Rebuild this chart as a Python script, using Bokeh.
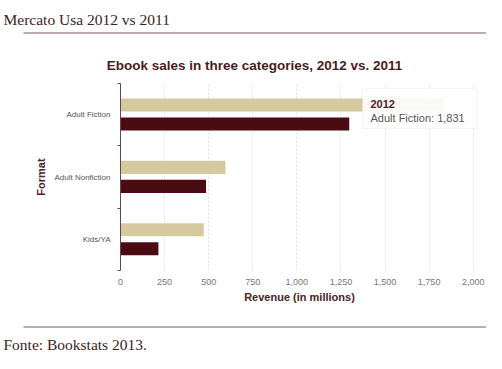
from bokeh.plotting import figure
from bokeh.models import (ColumnDataSource, Label, BoxAnnotation, FixedTicker,
                          NumeralTickFormatter, Range1d)
from bokeh.layouts import column
from bokeh.transform import dodge
from bokeh.embed import file_html
from bokeh.resources import INLINE

# ---- data ----
categories = ["Adult Fiction", "Adult Nonfiction", "Kids/YA"]
sales_2012 = [1831, 595, 472]
sales_2011 = [1297, 485, 215]
x_ticks = [0, 250, 500, 750, 1000, 1250, 1500, 1750, 2000]

header_text = "Mercato Usa 2012 vs 2011"
chart_title = "Ebook sales in three categories, 2012 vs. 2011"
footer_text = "Fonte: Bookstats 2013."
tooltip_title = "2012"
tooltip_text = "Adult Fiction: 1,831"

W = 486
TAN = "#d6c9a0"
MAROON = "#4a0b12"
BROWN = "#4a2424"
SERIF_COL = "#3a1e1e"
RULE_COL = "#7a5a58"


def deco_fig(h):
    f = figure(width=W, height=h, output_backend="svg", toolbar_location=None,
               x_range=Range1d(0, W), y_range=Range1d(h, 0),
               x_axis_type=None, y_axis_type=None,
               min_border=0, min_border_left=0, min_border_right=0,
               min_border_top=0, min_border_bottom=0)
    f.outline_line_color = None
    f.grid.grid_line_color = None
    f.frame_align = False
    return f


# ---- header ----
HH = 78
hdr = deco_fig(HH)
hdr.add_layout(Label(x=3, y=19, text=header_text, text_font="Liberation Serif",
                     text_font_size="15.5px", text_color=SERIF_COL, text_baseline="alphabetic"))
hdr.add_layout(BoxAnnotation(left=23, right=486, top=32, bottom=33,
                             fill_color=RULE_COL, fill_alpha=1, line_color=None))
hdr.add_layout(Label(x=254, y=65, text=chart_title, text_font="Liberation Sans",
                     text_font_style="bold", text_font_size="13.5px", text_color="#4a1c1c",
                     text_align="center", text_baseline="middle"))

# ---- main chart ----
MH = 243
FL, FR, FT, FB = 120, 8, 5, 51

n = len(categories)
ypos = [n - i - 0.5 for i in range(n)]
src = ColumnDataSource(dict(cat=categories, y=ypos, v2012=sales_2012, v2011=sales_2011))

p = figure(width=W, height=MH, output_backend="svg", toolbar_location=None,
           x_range=(0, 2030), y_range=(0, n),
           min_border_left=FL, min_border_right=FR, min_border_top=FT, min_border_bottom=FB)
p.outline_line_color = None
p.frame_align = False

p.hbar(y=dodge("y", 0.155, range=p.y_range), left=0, right="v2012", height=0.21,
       source=src, fill_color=TAN, line_color=None)
p.hbar(y=dodge("y", -0.15, range=p.y_range), left=0, right="v2011", height=0.21,
       source=src, fill_color=MAROON, line_color=None)

p.xaxis.ticker = FixedTicker(ticks=x_ticks)
p.xaxis.formatter = NumeralTickFormatter(format="0,0")
p.xaxis.axis_line_color = None
p.xaxis.major_tick_line_color = None
p.xaxis.major_tick_out = 0
p.xaxis.major_tick_in = 0
p.xaxis.minor_tick_line_color = None
p.xaxis.major_label_text_font = "Liberation Sans"
p.xaxis.major_label_text_font_size = "9px"
p.xaxis.major_label_text_color = "#777777"
p.xaxis.major_label_standoff = 8
p.xaxis.axis_label = "Revenue (in millions)"
p.xaxis.axis_label_text_font = "Liberation Sans"
p.xaxis.axis_label_text_font_style = "bold"
p.xaxis.axis_label_text_font_size = "11px"
p.xaxis.axis_label_text_color = BROWN
p.xaxis.axis_label_standoff = 3

p.yaxis.ticker = FixedTicker(ticks=ypos, minor_ticks=list(range(0, n + 1)))
p.yaxis.major_label_overrides = {y: c for y, c in zip(ypos, categories)}
p.yaxis.axis_line_color = "#6a4444"
p.yaxis.major_tick_line_color = None
p.yaxis.major_tick_out = 0
p.yaxis.major_tick_in = 0
p.yaxis.minor_tick_line_color = "#6a4444"
p.yaxis.minor_tick_out = 3
p.yaxis.minor_tick_in = 0
p.yaxis.major_label_text_font = "Liberation Sans"
p.yaxis.major_label_text_font_size = "8px"
p.yaxis.major_label_text_color = "#555555"
p.yaxis.major_label_standoff = 7
p.yaxis.axis_label = "Format"
p.yaxis.axis_label_text_font = "Liberation Sans"
p.yaxis.axis_label_text_font_style = "bold"
p.yaxis.axis_label_text_font_size = "11px"
p.yaxis.axis_label_text_color = BROWN
p.yaxis.axis_label_standoff = 4

p.xgrid.grid_line_color = "#dedede"
p.xgrid.grid_line_dash = "2 2"
p.ygrid.grid_line_color = None


def sx(fx):
    return fx - FL


def sy(fy):
    return (MH - FB) - fy


# tooltip box (main figure coords: image y - 78)
p.add_layout(BoxAnnotation(left=sx(362), right=sx(476), top=sy(10), bottom=sy(50),
                           left_units="screen", right_units="screen",
                           top_units="screen", bottom_units="screen",
                           fill_color="white", fill_alpha=0.88,
                           line_color="#dddddd", line_width=1))
p.add_layout(Label(x=sx(370), y=sy(25), x_units="screen", y_units="screen",
                   text=tooltip_title, text_font="Liberation Sans", text_font_style="bold",
                   text_font_size="11px", text_color="#4a1c2c", text_baseline="middle"))
p.add_layout(Label(x=sx(370), y=sy(39), x_units="screen", y_units="screen",
                   text=tooltip_text, text_font="Liberation Sans",
                   text_font_size="11px", text_color="#555555", text_baseline="middle"))

# ---- footer ----
FH = 32
ftr = deco_fig(FH)
ftr.add_layout(BoxAnnotation(left=23, right=486, top=5, bottom=6,
                             fill_color=RULE_COL, fill_alpha=1, line_color=None))
ftr.add_layout(Label(x=3, y=31, text=footer_text, text_font="Liberation Serif",
                     text_font_size="15.5px", text_color=SERIF_COL, text_baseline="bottom"))

layout = column(hdr, p, ftr, spacing=0)
open("out.html", "w").write(file_html(layout, INLINE))
